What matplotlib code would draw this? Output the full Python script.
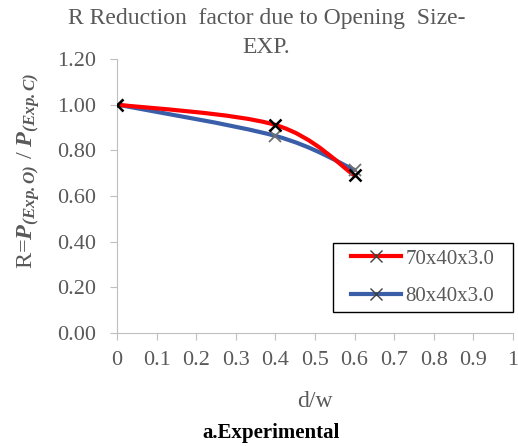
import matplotlib
matplotlib.use('Agg')
import matplotlib.pyplot as plt
import numpy as np
from matplotlib.path import Path
from matplotlib.patches import PathPatch, Rectangle

plt.rcParams.update({
    'font.family': 'Liberation Serif',
    'mathtext.fontset': 'custom',
    'mathtext.rm': 'Liberation Serif',
    'mathtext.it': 'Liberation Serif:italic',
    'mathtext.bf': 'Liberation Serif:bold:italic',
})

TEXT = '#595959'
AXIS = '#BFBFBF'

d_w = [0.0, 0.4, 0.6]
r_70 = [1.00, 0.911, 0.690]
r_80 = [1.00, 0.863, 0.714]
labels = ['70x40x3.0', '80x40x3.0']
x_ticks = [0, 0.1, 0.2, 0.3, 0.4, 0.5, 0.6, 0.7, 0.8, 0.9, 1]
x_tick_labels = ['0', '0.1', '0.2', '0.3', '0.4', '0.5', '0.6', '0.7', '0.8', '0.9', '1']
y_ticks = [0.0, 0.2, 0.4, 0.6, 0.8, 1.0, 1.2]


def smooth_path(xs, ys):
    # Catmull-Rom style bezier, like spreadsheet "smoothed line"
    pts = np.column_stack([xs, ys])
    n = len(pts)
    verts = [pts[0]]
    codes = [Path.MOVETO]
    for i in range(n - 1):
        p0 = pts[i - 1] if i > 0 else pts[i]
        p1 = pts[i]
        p2 = pts[i + 1]
        p3 = pts[i + 2] if i + 2 < n else pts[i + 1]
        c1 = p1 + (p2 - p0) / 6.0
        c2 = p2 - (p3 - p1) / 6.0
        verts += [c1, c2, p2]
        codes += [Path.CURVE4] * 3
    return Path(verts, codes)


fig = plt.figure(figsize=(5.18, 4.46), dpi=100)
ax = fig.add_axes([0.226, 0.253, 0.764, 0.615])

series = [(r_80, '#3A5FA8', '#707070', 1.3, labels[1]),
          (r_70, '#FF0000', '#000000', 1.8, labels[0])]
handles = {}
for ys, lc, mc, mew, lab in series:
    patch = PathPatch(smooth_path(d_w, ys), facecolor='none', edgecolor=lc,
                      lw=3.0, capstyle='round', zorder=2)
    ax.add_patch(patch)
    ax.plot(d_w, ys, ls='none', marker='x', ms=9, mew=mew, color=mc, zorder=3)
    h, = ax.plot([], [], color=lc, lw=3.0, marker='x', ms=8, mew=1.0,
                 mec='#404040')
    handles[lab] = h

ax.set_xlim(0, 1)
ax.set_ylim(0, 1.2)
ax.set_xticks(x_ticks)
ax.set_xticklabels(x_tick_labels)
ax.set_yticks(y_ticks)
ax.set_yticklabels([f'{v:.2f}' for v in y_ticks])
for s in ['top', 'right']:
    ax.spines[s].set_visible(False)
for s in ['left', 'bottom']:
    ax.spines[s].set_color(AXIS)
ax.tick_params(direction='out', length=5, color=AXIS, labelcolor=TEXT,
               labelsize=16, pad=8)
ax.tick_params(axis='y', pad=10)

ax.set_xlabel('d/w', fontsize=17, color=TEXT, labelpad=15)
fig.text(0.056, 0.617,
         r'R=$\mathbf{P}_{\mathbf{(Exp.O)}}$ / $\mathbf{P}_{\mathbf{(Exp.C)}}$',
         rotation=90, ha='center', va='center', fontsize=17.5, color=TEXT)
fig.text(0.514, 0.958, 'R Reduction  factor due to Opening  Size-',
         ha='center', va='center', fontsize=17, color=TEXT)
fig.text(0.514, 0.893, 'EXP.',
         ha='center', va='center', fontsize=17, color=TEXT)
fig.text(0.523, 0.03, 'a.Experimental', ha='center', va='center',
         fontsize=15, fontweight='bold', color='black')

# legend box drawn separately so it can be wider than the entries
box = (0.545, 0.077, 0.455, 0.251)
ax.add_patch(Rectangle(box[:2], box[2], box[3], transform=ax.transAxes,
                       facecolor='white', edgecolor='black', lw=1.0,
                       zorder=4, clip_on=False))
leg = ax.legend([handles[labels[0]], handles[labels[1]]], labels,
                loc='center', bbox_to_anchor=box,
                fontsize=15, frameon=False,
                handlelength=2.4, borderpad=0.0, labelspacing=0.85,
                handletextpad=0.2, borderaxespad=0.0)
leg.set_zorder(5)
for t in leg.get_texts():
    t.set_color(TEXT)

fig.savefig('out.png', dpi=100)
